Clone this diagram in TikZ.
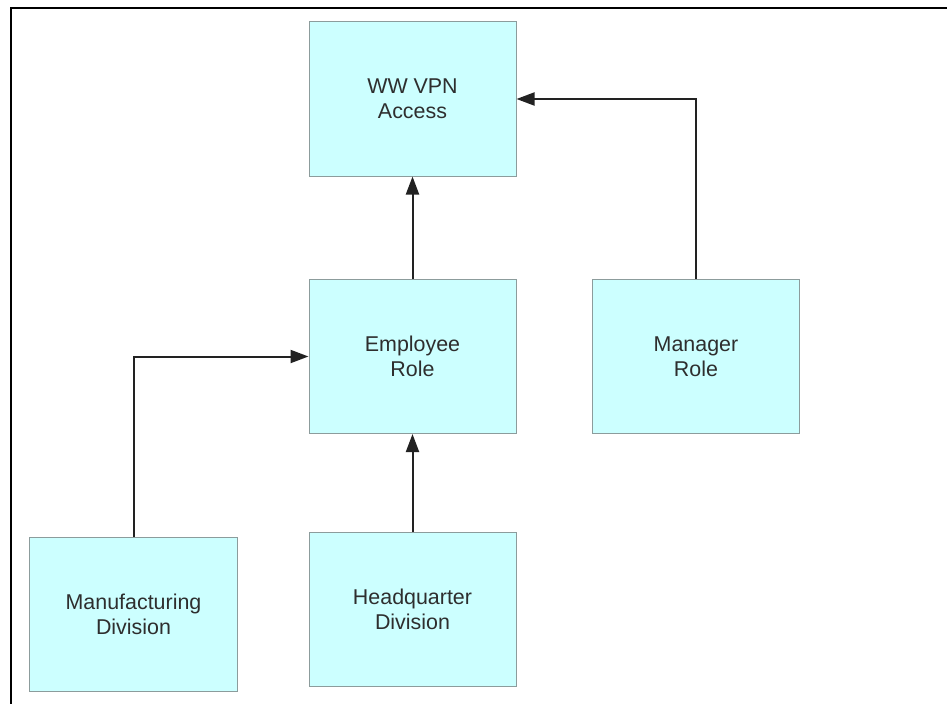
\documentclass[tikz,border=0pt]{standalone}
\usepackage{fontspec}
\setmainfont{Liberation Sans}
\usetikzlibrary{arrows.meta}
\definecolor{boxfill}{HTML}{CCFFFF}
\definecolor{boxline}{HTML}{8C9C9C}
\definecolor{txtgrey}{HTML}{2E2E2E}
\definecolor{arrgrey}{HTML}{222222}
\tikzset{rolebox/.style={draw=boxline,fill=boxfill,line width=1bp,minimum width=207bp,minimum height=154bp,align=center,text=txtgrey,font=\fontsize{21.5}{25}\selectfont}}
\begin{document}
\begin{tikzpicture}[>={Triangle[length=18bp,width=13bp]},x=1bp,y=-1bp,line width=2bp,color=arrgrey]
		\useasboundingbox (0,0) rectangle (947,704);
		\draw[black,line width=1.5bp] (947,8)--(11,8)--(11,704);
		\node[rolebox] (www) at (412.5,99) {WW VPN\\Access};
		\node[rolebox] (emp) at (412.5,356.5) {Employee\\Role};
		\node[rolebox] (mgr) at (696,356.5) {Manager\\Role};
		\node[rolebox] (mfg) at (133.5,614) {Manufacturing\\Division};
		\node[rolebox] (hq) at (412.5,609) {Headquarter\\Division};
		\draw[->] (emp) -- (www);
		\draw[->] (hq) -- (emp);
		\draw[->] (mgr.north) |- (www.east);
		\draw[->] (mfg.north) |- (emp.west);
		\end{tikzpicture}
\end{document}
